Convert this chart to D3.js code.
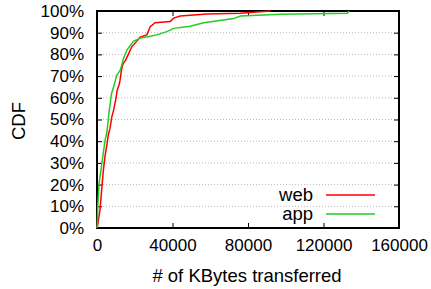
<!DOCTYPE html>
<html>
<head>
<meta charset="utf-8">
<script src="https://cdn.jsdelivr.net/npm/d3@7"></script>
<style>
  body { margin: 0; background: #fff; }
  text { font-family: "Liberation Sans", Arial, sans-serif; }
</style>
</head>
<body>
<div class="chart"></div>
<script>
const seriesNames = ["web", "app"];
const seriesColors = ["#ff0000", "#22cc22"];

// [KBytes, CDF]
const webData = [
    [0, 0], [400, 0.015], [1600, 0.085], [3300, 0.26], [4300, 0.335], [5200, 0.38],
    [6000, 0.43], [6900, 0.46], [7800, 0.51], [8700, 0.54], [10100, 0.6], [10700, 0.635],
    [11700, 0.66], [12200, 0.68], [13100, 0.736], [14000, 0.76], [15000, 0.77], [16600, 0.8],
    [18400, 0.835], [21000, 0.86], [22900, 0.88], [26400, 0.89], [28200, 0.928], [30800, 0.946],
    [38800, 0.952], [40600, 0.967], [44100, 0.977], [58300, 0.986], [76000, 0.99], [92000, 1.0]
];
const appData = [
    [0, 0], [200, 0.02], [400, 0.1], [1100, 0.206], [2100, 0.267], [3400, 0.35],
    [4300, 0.405], [5200, 0.44], [6000, 0.5], [6200, 0.52], [7700, 0.62], [8500, 0.64],
    [10500, 0.705], [11300, 0.715], [12200, 0.725], [13100, 0.75], [14000, 0.78], [15800, 0.82],
    [19300, 0.86], [22900, 0.875], [26400, 0.88], [31700, 0.89], [37000, 0.905], [40600, 0.92],
    [49400, 0.93], [56500, 0.946], [72400, 0.965], [76000, 0.977], [97300, 0.985],
    [132700, 0.99], [133500, 1.0]
];

const xTicks = [0, 40000, 80000, 120000, 160000];
const yTicks = [0, 0.1, 0.2, 0.3, 0.4, 0.5, 0.6, 0.7, 0.8, 0.9, 1.0];

const w = 431;
const h = 289;
const pLeft = 97, pRight = 399, pTop = 11, pBottom = 228;

const xScale = d3.scaleLinear().domain([0, 160000]).range([pLeft, pRight]);
const yScale = d3.scaleLinear().domain([0, 1]).range([pBottom, pTop]);

const svg = d3.select(".chart").append("svg")
    .attr("width", w)
    .attr("height", h);

// horizontal grid
svg.append("g")
    .selectAll("line")
    .data(yTicks.slice(1, -1))
    .enter()
    .append("line")
    .attr("x1", pLeft).attr("x2", pRight)
    .attr("y1", d => yScale(d)).attr("y2", d => yScale(d))
    .attr("stroke", "#bbb")
    .attr("stroke-width", 1)
    .attr("stroke-dasharray", "1,2");

const fs = "17px";
const fsLabel = "18.5px";

const xAxis = d3.axisBottom(xScale).tickValues(xTicks).tickSize(-5).tickPadding(11).tickFormat(d3.format("d"));
const yAxis = d3.axisLeft(yScale).tickValues(yTicks).tickSize(-5).tickPadding(13).tickFormat(d => Math.round(d * 100) + "%");

svg.append("g")
    .attr("transform", "translate(0," + pBottom + ")")
    .call(xAxis);
svg.append("g")
    .attr("transform", "translate(" + pLeft + ",0)")
    .call(yAxis);

// mirrored ticks on top and right
svg.append("g")
    .attr("transform", "translate(0," + pTop + ")")
    .call(d3.axisTop(xScale).tickValues(xTicks).tickSize(-5).tickFormat(""));
svg.append("g")
    .attr("transform", "translate(" + pRight + ",0)")
    .call(d3.axisRight(yScale).tickValues(yTicks).tickSize(-5).tickFormat(""));

svg.selectAll(".domain").remove();
svg.selectAll(".tick line").attr("stroke", "#000").attr("stroke-width", 1);
svg.selectAll(".tick text").attr("font-size", fs).attr("fill", "#000")
    .style("font-family", "'Liberation Sans', Arial, sans-serif");

// frame
svg.append("rect")
    .attr("x", pLeft).attr("y", pTop)
    .attr("width", pRight - pLeft).attr("height", pBottom - pTop)
    .attr("fill", "none")
    .attr("stroke", "#000")
    .attr("stroke-width", 2);

const line = d3.line()
    .x(d => xScale(d[0]))
    .y(d => yScale(d[1]));

[webData, appData].forEach((data, i) => {
    svg.append("path")
        .datum(data)
        .attr("d", line)
        .attr("fill", "none")
        .attr("stroke", seriesColors[i])
        .attr("stroke-width", 1.5)
        .attr("stroke-linejoin", "miter");
});

// legend
seriesNames.forEach((name, i) => {
    const ly = 195 + i * 19;
    svg.append("text")
        .attr("x", 313).attr("y", ly + 6)
        .attr("text-anchor", "end")
        .attr("font-size", fsLabel)
        .text(name);
    svg.append("line")
        .attr("x1", 326).attr("x2", 375)
        .attr("y1", ly).attr("y2", ly)
        .attr("stroke", seriesColors[i])
        .attr("stroke-width", 1.5);
});

// axis labels
svg.append("text")
    .attr("x", 247).attr("y", 282)
    .attr("text-anchor", "middle")
    .attr("font-size", fsLabel)
    .text("# of KBytes transferred");

svg.append("text")
    .attr("transform", "translate(25,121) rotate(-90)")
    .attr("text-anchor", "middle")
    .attr("font-size", fsLabel)
    .text("CDF");
</script>
</body>
</html>
